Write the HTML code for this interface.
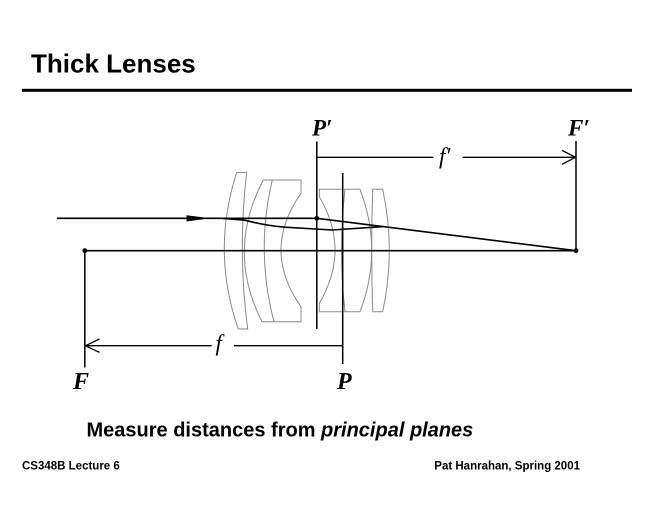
<!DOCTYPE html>
<html>
<head>
<meta charset="utf-8">
<style>
html,body{margin:0;padding:0;background:#fff;}
svg{display:block;}
</style>
</head>
<body>
<svg width="660" height="510" viewBox="0 0 660 510" xmlns="http://www.w3.org/2000/svg">
<rect x="0" y="0" width="660" height="510" fill="#fff"/>
<!-- Title -->
<text x="31" y="72.5" font-family="Liberation Sans, Arial, sans-serif" font-weight="bold" font-size="26" fill="#000">Thick Lenses</text>
<rect x="22" y="88.8" width="610" height="3" fill="#000"/>

<!-- Lens elements -->
<g fill="none" stroke="#8a8a8a" stroke-width="1">
  <!-- element 1 -->
  <path d="M236.7,172.5 L246.7,172.5 Q237.4,251.25 247.7,329 L238.3,329 Q211.1,251.25 236.7,172.5 Z"/>
  <!-- element 2 -->
  <path d="M263.3,180 L301,180 L301,193.3 Q261,250 301,306.7 L301,321.7 L262,321.7 Q226,251 263.3,180 Z"/>
  <path d="M272.3,180 Q255.4,251 274,321.7"/>
  <!-- element 3 -->
  <path d="M319.3,189.3 L360,189.3 Q383.4,250.5 360,311.7 L319.3,311.7 L319.3,303.3 Q350.7,250 319.3,196.7 Z"/>
  <path d="M345,189.3 Q338,250.5 345,311.7"/>
  <!-- element 4 -->
  <path d="M372.7,189.3 L382.7,189.3 Q395.9,250.5 382.7,311.7 L372.7,311.7 Q370.7,250.5 372.7,189.3 Z"/>
</g>

<!-- Optical axis -->
<line x1="84.5" y1="250.7" x2="576" y2="250.7" stroke="#000" stroke-width="1.6"/>

<!-- Vertical lines -->
<g stroke="#000" stroke-width="1.5">
  <line x1="316.8" y1="141.5" x2="316.8" y2="329"/>
  <line x1="576" y1="141" x2="576" y2="250.7"/>
  <line x1="342.7" y1="173" x2="342.7" y2="364"/>
  <line x1="84.8" y1="250.7" x2="84.8" y2="367.5"/>
</g>

<!-- f' dimension -->
<g stroke="#000" stroke-width="1.3" fill="none">
  <line x1="316.8" y1="157.3" x2="433.5" y2="157.3"/>
  <line x1="462.5" y1="157.3" x2="575" y2="157.3"/>
  <polyline points="562,150.3 575.5,157.3 562,164.3"/>
  <!-- f dimension -->
  <line x1="85.5" y1="345.7" x2="211.7" y2="345.7"/>
  <line x1="234" y1="345.7" x2="342.7" y2="345.7"/>
  <polyline points="99.5,339 85.5,345.7 99.5,352.4"/>
</g>

<!-- Rays -->
<g stroke="#000" fill="none" stroke-width="1.6">
  <line x1="57" y1="218.3" x2="316.8" y2="218.3"/>
  <line x1="316.8" y1="218.3" x2="576" y2="250.7"/>
  <path d="M222,218.3 L245,220.2 Q265,225.5 285,227.2 L332,230 L384,226.6"/>
</g>
<polygon points="186.5,215.3 210.5,218.3 186.5,221.5" fill="#000"/>

<!-- Dots -->
<g fill="#000">
  <circle cx="316.8" cy="218.3" r="2.4"/>
  <circle cx="576" cy="250.7" r="2.4"/>
  <circle cx="84.8" cy="250.7" r="2.4"/>
</g>

<!-- Labels -->
<g font-family="Liberation Serif, Times New Roman, serif" font-style="italic" fill="#000">
  <text x="312" y="135.5" font-size="23" font-weight="bold">P′</text>
  <text x="568" y="135.5" font-size="23" font-weight="bold">F′</text>
  <text x="73" y="389" font-size="24" font-weight="bold">F</text>
  <text x="337" y="389" font-size="24" font-weight="bold">P</text>
  <text x="439" y="163.5" font-size="23">f′</text>
  <text x="215.5" y="350.5" font-size="23">f</text>
</g>

<!-- Subtitle -->
<text x="86.5" y="436.7" font-family="Liberation Sans, Arial, sans-serif" font-weight="bold" font-size="20" fill="#000">Measure distances from <tspan font-style="italic">principal planes</tspan></text>

<!-- Footer -->
<text x="22" y="469.5" font-family="Liberation Sans, Arial, sans-serif" font-weight="bold" font-size="11.5" fill="#000">CS348B Lecture 6</text>
<text x="580" y="469.5" text-anchor="end" font-family="Liberation Sans, Arial, sans-serif" font-weight="bold" font-size="11.5" fill="#000">Pat Hanrahan, Spring 2001</text>
</svg>
</body>
</html>
